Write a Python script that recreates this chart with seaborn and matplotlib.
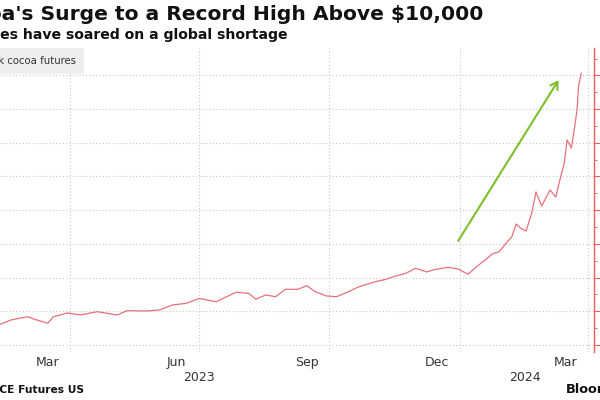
import matplotlib
matplotlib.use("Agg")
import matplotlib.pyplot as plt
import matplotlib.dates as mdates
import seaborn as sns
import pandas as pd

# ---- data ----
dates = ["2023-02-03", "2023-02-11", "2023-02-18", "2023-02-25", "2023-03-02", "2023-03-06",
         "2023-03-16", "2023-03-20", "2023-03-30", "2023-04-08", "2023-04-20", "2023-05-04",
         "2023-05-11", "2023-05-25", "2023-06-03", "2023-06-12", "2023-06-22", "2023-07-01",
         "2023-07-13", "2023-07-27", "2023-08-05", "2023-08-10", "2023-08-17", "2023-08-24",
         "2023-08-31", "2023-09-09", "2023-09-15", "2023-09-21", "2023-09-29", "2023-10-06",
         "2023-10-13", "2023-10-22", "2023-11-01", "2023-11-10", "2023-11-17", "2023-11-24",
         "2023-12-01", "2023-12-09", "2023-12-13", "2023-12-24", "2023-12-31", "2024-01-07",
         "2024-01-13", "2024-01-20", "2024-01-24", "2024-01-29", "2024-02-03", "2024-02-07",
         "2024-02-10", "2024-02-13", "2024-02-17", "2024-02-21", "2024-02-24", "2024-02-28",
         "2024-03-05", "2024-03-09", "2024-03-11", "2024-03-15", "2024-03-17", "2024-03-20",
         "2024-03-22", "2024-03-24", "2024-03-25", "2024-03-27"]
prices = [2580, 2623, 2742, 2801, 2840, 2771, 2644, 2840, 2950, 2890, 2988, 2890,
          3018, 3009, 3038, 3187, 3237, 3380, 3285, 3564, 3534, 3356, 3484, 3433,
          3653, 3653, 3760, 3581, 3454, 3433, 3552, 3730, 3860, 3950, 4047, 4127,
          4276, 4166, 4225, 4305, 4255, 4098, 4323, 4552, 4700, 4768, 5026, 5213,
          5590, 5471, 5382, 5916, 6540, 6124, 6600, 6391, 6747, 7400, 8082, 7845,
          8379, 8972, 9655, 10070]
series_name = "New York cocoa futures"
y_ticks = [2000, 3000, 4000, 5000, 6000, 7000, 8000, 9000, 10000]
month_labels = ["2023-03-16", "2023-06-15", "2023-09-15", "2023-12-16", "2024-03-16"]
year_labels = [("2023", "2023-07-01"), ("2024", "2024-02-16")]
arrow_start = ("2023-12-30", 5020)
arrow_end = ("2024-03-12", 9930)

title = "Cocoa's Surge to a Record High Above $10,000"
subtitle = "Prices have soared on a global shortage"
source = "Source: ICE Futures US"

df = pd.DataFrame({"date": pd.to_datetime(dates), "price": prices})

sns.set_style("white")
plt.rcParams["font.family"] = ["DejaVu Sans"]

fig = plt.figure(figsize=(6, 4), dpi=100)
ax = fig.add_axes([-57 / 600, 48 / 400, 651 / 600, 304 / 400])

sns.lineplot(data=df, x="date", y="price", ax=ax, color="#e8707a", linewidth=0.9)

ax.set_xlim(pd.Timestamp("2023-01-01"), pd.Timestamp("2024-04-05"))
ax.set_ylim(1792, 10812)

# grid
ax.xaxis.set_major_locator(mdates.MonthLocator(bymonth=[1, 4, 7, 10]))
ax.xaxis.set_major_formatter(plt.NullFormatter())
ax.set_yticks(y_ticks)
ax.yaxis.set_minor_locator(plt.MultipleLocator(500))
ax.grid(True, which="major", color="#c8c8c8", linestyle=(0, (1, 2)), linewidth=0.8)

# month labels at mid-month
ax.set_xticks(pd.to_datetime(month_labels), minor=True)
ax.xaxis.set_minor_formatter(mdates.DateFormatter("%b"))
ax.tick_params(axis="x", which="both", length=0, pad=3, labelsize=9, labelcolor="#333333")

for lab, d in year_labels:
    ax.text(pd.Timestamp(d), -0.063, lab, transform=ax.get_xaxis_transform(),
            ha="center", va="top", fontsize=9, color="#333333")

# right axis
ax.yaxis.tick_right()
ax.yaxis.set_major_formatter(plt.FuncFormatter(lambda v, p: f"{int(v):,}"))
for s in ["top", "left", "bottom"]:
    ax.spines[s].set_visible(False)
ax.spines["right"].set_color("#ef5a62")
ax.spines["right"].set_linewidth(1.0)
ax.tick_params(axis="y", which="major", length=4, color="#ef5a62", labelsize=9,
               labelcolor="#333333", direction="out")
ax.tick_params(axis="y", which="minor", length=2, color="#ef5a62", direction="out")
ax.set_xlabel("")
ax.set_ylabel("")

# arrow
ax.annotate("", xy=(pd.Timestamp(arrow_end[0]), arrow_end[1]),
            xytext=(pd.Timestamp(arrow_start[0]), arrow_start[1]),
            arrowprops=dict(arrowstyle="->,head_length=0.5,head_width=0.3",
                            color="#7dc02b", linewidth=1.5))

# texts (cropped at left like the reference)
fig.text(483 / 600, 1 - 15 / 400, title, ha="right", va="center",
         fontsize=14.6, fontweight="bold", color="#111111")
fig.text(288 / 600, 1 - 35 / 400, subtitle, ha="right", va="center",
         fontsize=10.1, fontweight="bold", color="#111111")
fig.text(76 / 600, 1 - 61 / 400, series_name, ha="right", va="center",
         fontsize=7.3, color="#333333",
         bbox=dict(boxstyle="square,pad=0.8", fc="#eeeeee", ec="none"))
fig.text(84 / 600, 1 - 390 / 400, source, ha="right", va="center",
         fontsize=7.7, fontweight="bold", color="#111111")
fig.text(566 / 600, 1 - 389 / 400, "Bloomberg", ha="left", va="center",
         fontsize=9.3, fontweight="bold", color="#111111")

fig.savefig("out.png", dpi=100)
